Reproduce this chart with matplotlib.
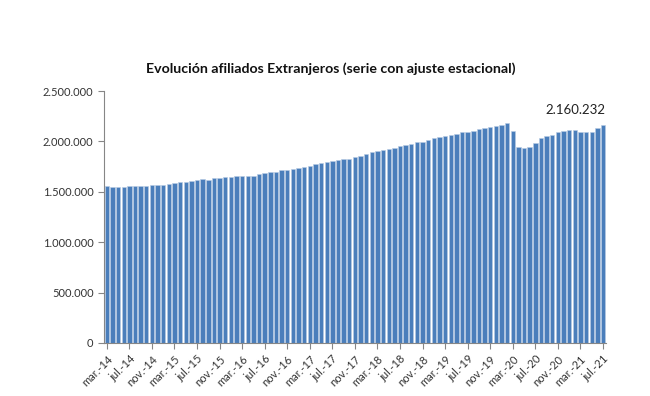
import matplotlib
matplotlib.use('Agg')
import matplotlib.pyplot as plt
from matplotlib.ticker import FuncFormatter

# meses (mar-14 ... jul-21)
meses = ['ene.', 'feb.', 'mar.', 'abr.', 'may.', 'jun.', 'jul.', 'ago.', 'sep.', 'oct.', 'nov.', 'dic.']
fechas = []
for anio in range(14, 22):
    for m in range(12):
        if (anio == 14 and m < 2) or (anio == 21 and m > 6):
            continue
        fechas.append(f'{meses[m]}-{anio}')

afiliados = [
    1553000, 1550000, 1547000, 1547000, 1553000, 1556000, 1556000, 1560000, 1563000, 1563000,
    1566000, 1576000, 1584000, 1597000, 1600000, 1607000, 1617000, 1623000, 1620000, 1634000,
    1640000, 1645000, 1648000, 1653000, 1656000, 1656000, 1660000, 1673000, 1686000, 1693000,
    1699000, 1716000, 1719000, 1726000, 1736000, 1746000, 1759000, 1776000, 1789000, 1795000,
    1802000, 1815000, 1825000, 1830000, 1846000, 1858000, 1874000, 1891000, 1901000, 1911000,
    1927000, 1937000, 1951000, 1961000, 1974000, 1994000, 1997000, 2017000, 2030000, 2044000,
    2057000, 2067000, 2077000, 2090000, 2098000, 2108000, 2120000, 2136000, 2140000, 2153000,
    2163000, 2179000, 2100000, 1948000, 1931000, 1948000, 1981000, 2037000, 2054000, 2067000,
    2090000, 2106000, 2113000, 2113000, 2093000, 2090000, 2090000, 2136000, 2160232,
]

yticks = [0, 500000, 1000000, 1500000, 2000000, 2500000]

def miles(v, pos=None):
    return f'{int(v):,}'.replace(',', '.')

plt.rcParams['font.family'] = ['Lato', 'DejaVu Sans']

fig = plt.figure(figsize=(6.5, 3.96), dpi=100)
ax = fig.add_axes([0.16, 0.134, 0.772, 0.636])

x = range(len(afiliados))
ax.bar(x, afiliados, width=0.78, color='#4a7ebb', edgecolor='#b8cce4', linewidth=0.4)

ax.set_xlim(-0.5, len(afiliados) - 0.5)
ax.set_ylim(0, 2500000)
ax.set_yticks(yticks)
ax.yaxis.set_major_formatter(FuncFormatter(miles))

pos = list(range(0, len(fechas), 4))
ax.set_xticks(pos)
ax.set_xticklabels([fechas[i] for i in pos], rotation=45, ha='right', rotation_mode='anchor')

for s in ['top', 'right']:
    ax.spines[s].set_visible(False)
for s in ['left', 'bottom']:
    ax.spines[s].set_color('#868686')
ax.tick_params(axis='both', colors='#868686', labelcolor='#333333', labelsize=8, length=4)

ult = len(afiliados) - 1
ax.annotate(miles(afiliados[ult]), (ult + 0.4, afiliados[ult]), xytext=(0, 7),
            textcoords='offset points', ha='right', va='bottom', fontsize=9.5, color='#222222')

fig.text(0.509, 0.826, 'Evolución afiliados Extranjeros (serie con ajuste estacional)',
         ha='center', va='center', fontsize=10.2, fontweight='bold', color='#111111')

fig.savefig('out.png', dpi=100)
